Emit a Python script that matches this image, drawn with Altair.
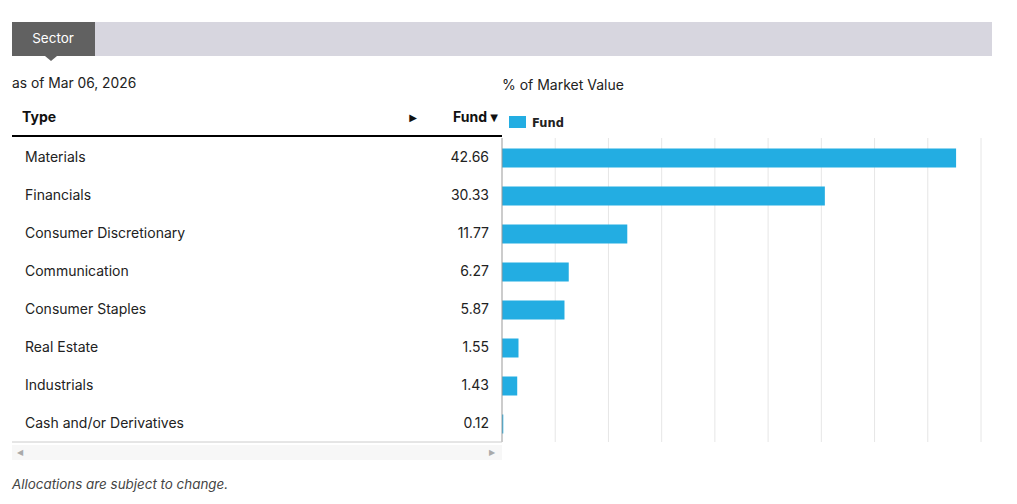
import altair as alt
import pandas as pd

types = ["Materials", "Financials", "Consumer Discretionary", "Communication",
         "Consumer Staples", "Real Estate", "Industrials", "Cash and/or Derivatives"]
fund = [42.66, 30.33, 11.77, 6.27, 5.87, 1.55, 1.43, 0.12]
grid_ticks = [5, 10, 15, 20, 25, 30, 35, 40, 45]

title_tab = "Sector"
as_of = "as of Mar 06, 2026"
axis_title = "% of Market Value"
col_type = "Type"
col_fund = "Fund"
legend_label = "Fund"
footer = "Allocations are subject to change."

BLUE = "#23ADE2"
FONT = "Inter"

df = pd.DataFrame({"Type": types, "Fund": fund})
gdf = pd.DataFrame({"g": grid_ticks})
one = pd.DataFrame({"a": [0]})

yscale = alt.Scale(domain=types, range=[131, 435], paddingInner=0.5, paddingOuter=0.25)
xscale = alt.Scale(domain=[0, 45], range=[494, 973], nice=False, zero=True)
Y = alt.Y("Type:N", sort=types, scale=yscale, axis=None)


def box(x, x2, y, y2, color):
    return alt.Chart(one).mark_rect(color=color).encode(
        x=alt.value(x), x2=alt.value(x2), y=alt.value(y), y2=alt.value(y2))


def label(txt, x, y, **kw):
    return alt.Chart(one).mark_text(font=kw.pop("font", FONT), baseline="middle", **kw).encode(
        x=alt.value(x), y=alt.value(y), text=alt.value(txt))


def hline(x, x2, y, color, w):
    return alt.Chart(one).mark_rule(color=color, strokeWidth=w).encode(
        x=alt.value(x), x2=alt.value(x2), y=alt.value(y))


band = box(4, 984, 14, 48, "#d7d6df")
tab = box(4, 87, 14, 48, "#616161")
pointer = alt.Chart(one).mark_point(
    shape="M-1,0L1,0L0,0.85Z", size=144, filled=True, opacity=1, color="#616161", strokeWidth=0
).encode(x=alt.value(43), y=alt.value(48))
tab_text = label(title_tab, 45, 30.5, align="center", fontSize=13.5, color="white")

asof_t = label(as_of, 4, 75.5, align="left", fontSize=13.8, color="#222")
axis_t = label(axis_title, 494, 77.5, align="left", fontSize=14, color="#222")

type_h = label(col_type, 14, 109.5, align="left", fontSize=14, fontWeight="bold", color="#111")
arrow_h = label("▶", 405, 110, align="center", fontSize=10, color="#111", font="DejaVu Sans")
fund_h = label(col_fund, 479, 109.5, align="right", fontSize=14, fontWeight="bold", color="#111")
fund_arrow = label("▼", 486, 110, align="center", fontSize=10, color="#111", font="DejaVu Sans")

leg_box = box(501, 518, 108, 120, BLUE)
leg_t = label(legend_label, 524, 115.5, align="left", fontSize=11.5, fontWeight="bold",
              color="#222", font="DejaVu Sans")

header_line = hline(4, 494, 128, "#000000", 2)
bottom_line = hline(4, 494, 434, "#cccccc", 1)

scroll = box(4, 494, 437, 452, "#f7f7f7")
sl = label("◀", 12, 444.5, align="center", fontSize=8, color="#aaaaaa", font="DejaVu Sans")
sr = label("▶", 484, 444.5, align="center", fontSize=8, color="#aaaaaa", font="DejaVu Sans")

foot = label(footer, 4, 477, align="left", fontSize=13.4, fontStyle="italic", color="#444")

grid = alt.Chart(gdf).mark_rule(color="#e6e6e6", strokeWidth=1).encode(
    x=alt.X("g:Q", scale=xscale, axis=None), y=alt.value(130), y2=alt.value(434))
axis_line = alt.Chart(one).mark_rule(color="#999999", strokeWidth=1).encode(
    x=alt.value(494), y=alt.value(130), y2=alt.value(434))

bars = alt.Chart(df).mark_bar(color=BLUE).encode(
    x=alt.X("Fund:Q", scale=xscale, axis=None), y=Y)

names = alt.Chart(df).mark_text(align="left", baseline="middle", font=FONT, fontSize=14,
                                color="#222").encode(x=alt.value(17), y=Y, text="Type:N")
vals = alt.Chart(df).mark_text(align="right", baseline="middle", font=FONT, fontSize=14,
                               color="#222").encode(
    x=alt.value(481), y=Y, text=alt.Text("Fund:Q", format=".2f"))

chart = alt.layer(
    band, tab, pointer, tab_text, asof_t, axis_t, type_h, arrow_h, fund_h, fund_arrow,
    leg_box, leg_t, grid, bars, axis_line, header_line, bottom_line, scroll, sl, sr, foot,
    names, vals
).properties(
    width=1001, height=487, padding=0,
    autosize=alt.AutoSizeParams(type="none")
).configure_view(stroke=None)

chart.save("out.html", embed_options={"renderer": "svg", "actions": False})
